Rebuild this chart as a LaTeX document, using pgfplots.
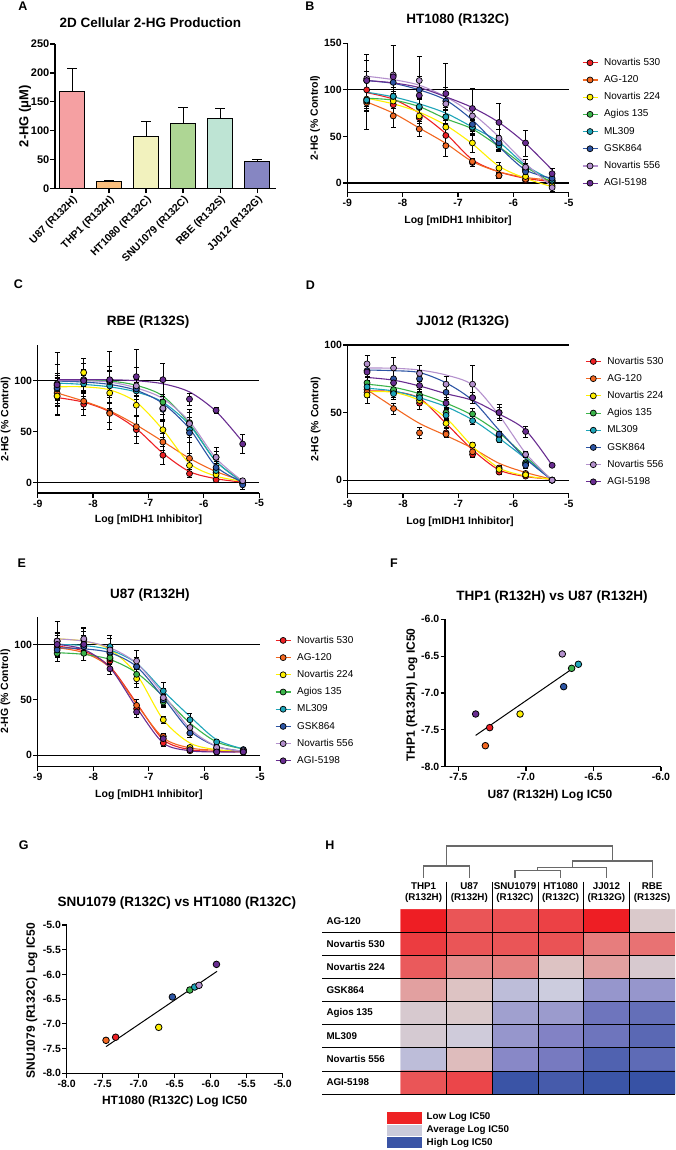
\documentclass[border=0pt]{standalone}
\usepackage{pgfplots}
\pgfplotsset{compat=1.18}
\usepackage{pgfplotstable}
\usepackage{fontspec}
\setmainfont{Liberation Sans}

\definecolor{kR}{RGB}{237,32,36}
\definecolor{kO}{RGB}{243,104,33}
\definecolor{kY}{RGB}{255,240,0}
\definecolor{kG}{RGB}{60,180,75}
\definecolor{kT}{RGB}{30,165,185}
\definecolor{kB}{RGB}{45,85,165}
\definecolor{kL}{RGB}{180,145,205}
\definecolor{kP}{RGB}{105,45,145}
\definecolor{bU}{RGB}{245,160,162}
\definecolor{bT}{RGB}{250,190,125}
\definecolor{bH}{RGB}{242,242,190}
\definecolor{bS}{RGB}{174,214,148}
\definecolor{bR}{RGB}{190,228,212}
\definecolor{bJ}{RGB}{134,134,194}
\definecolor{dg}{RGB}{105,105,105}
\definecolor{hR}{RGB}{238,34,36}
\definecolor{hM}{RGB}{202,202,218}
\definecolor{hB}{RGB}{58,84,165}

\newcommand\fT{\bfseries\fontsize{13.5}{16}\selectfont}
\newcommand\fK{\bfseries\fontsize{10.5}{12.5}\selectfont}
\newcommand\fM{\bfseries\fontsize{12}{14}\selectfont}
\newcommand\fP{\bfseries\fontsize{12.5}{15}\selectfont}
\newcommand\fH{\bfseries\fontsize{9.8}{11}\selectfont}
\newcommand\fG{\fontsize{10}{12}\selectfont}

\pgfplotsset{
  colormap={hm}{rgb255(0cm)=(238,30,36) rgb255(5cm)=(232,118,118) rgb255(8.5cm)=(220,200,200) rgb255(10cm)=(204,204,222) rgb255(15cm)=(128,128,196) rgb255(20cm)=(55,82,165)},
  legend image code/.code={\draw[mark repeat=2,mark phase=2,#1] plot coordinates {(0pt,0pt) (7.5pt,0pt) (15pt,0pt)};},
  gp/.style={scale only axis, clip=false, axis x line*=bottom, axis y line*=left,
    axis line style={-, line width=1.2pt, black},
    tick align=outside, major tick length=4.5pt,
    major tick style={black, line width=1.2pt},
    minor tick num=0,
    every axis title shift=0pt,
    tick label style={font=\fK},
    xticklabel style={inner sep=2pt}, yticklabel style={inner xsep=1pt},
    label style={font=\fK},
    title style={font=\fT}},
  tpos/.style 2 args={title style={at={(axis description cs:#1,#2)}, anchor=center}},
  xlpos/.style 2 args={xlabel style={at={(axis description cs:#1,#2)}, anchor=center}},
  ylpos/.style 2 args={ylabel style={at={(axis description cs:#1,#2)}, anchor=center}},
  dr/.style={gp, xmin=-9, xmax=-5, ymin=-10, xtick={-9,-8,-7,-6,-5}, xticklabels={-9,-8,-7,-6,-5},
    ytick={0,50,100}, yticklabels={0,50,100},
    xlabel={Log [mIDH1 Inhibitor]}, ylabel={2-HG (\% Control)},
    xlpos={0.5}{-0.193}, ylpos={-0.145}{0.5}},
  drleg/.style={legend style={at={(#1)}, anchor=north west, draw=none, fill=none, font=\fG,
    row sep=7.6pt, inner sep=0pt, nodes={inner sep=0pt},
    /tikz/column 2/.style={nodes={text height=7.4pt, text depth=2.2pt}},
    /tikz/every odd column/.append style={column sep=6pt}}, legend cell align=left},
  sc/.style={gp, xlabel style={font=\fM}, ylabel style={font=\fM}},
  ebar/.style={ybar, bar width=24.5pt, bar shift=0pt, draw=black, line width=1pt,
    error bars/.cd, y dir=plus, y explicit, error bar style={line width=1pt, black},
    error mark options={rotate=90, mark size=5pt, line width=1pt, black}},
}

\newcommand\drcv[3]{\addplot[#3, line width=1.1pt, smooth, forget plot] table[x=x, y=c#2] {#1};}
\newcommand\drpt[3]{\addplot[forget plot, only marks, mark=*, mark size=3pt,
  mark options={fill=#3, draw=black, line width=0.7pt, solid},
  error bars/.cd, y dir=both, y explicit, error bar style={black, line width=0.8pt},
  error mark options={black, rotate=90, mark size=2.5pt, line width=0.8pt}]
  table[x=x, y=p#2, y error=e#2] {#1};}
\newcommand\allseries[1]{%
  \drcv{#1}{R}{kR}\drcv{#1}{O}{kO}\drcv{#1}{Y}{kY}\drcv{#1}{G}{kG}%
  \drcv{#1}{T}{kT}\drcv{#1}{B}{kB}\drcv{#1}{L}{kL}\drcv{#1}{P}{kP}%
  \drpt{#1}{R}{kR}\drpt{#1}{O}{kO}\drpt{#1}{Y}{kY}\drpt{#1}{G}{kG}%
  \drpt{#1}{T}{kT}\drpt{#1}{B}{kB}\drpt{#1}{L}{kL}\drpt{#1}{P}{kP}}
\newcommand\lgnd[2]{\addlegendimage{#1, line width=1.1pt, mark=*, mark size=3pt, mark options={fill=#1, draw=black, line width=0.7pt}}\addlegendentry{#2}}
\newcommand\legs{\lgnd{kR}{Novartis 530}\lgnd{kO}{AG-120}\lgnd{kY}{Novartis 224}\lgnd{kG}{Agios 135}%
  \lgnd{kT}{ML309}\lgnd{kB}{GSK864}\lgnd{kL}{Novartis 556}\lgnd{kP}{AGI-5198}}
\newcommand\reflines{\addplot[black, line width=1.1pt, forget plot] coordinates {(-9,0) (-5,0)};
  \addplot[black, line width=1.1pt, forget plot] coordinates {(-9,100) (-5,100)};}

\pgfplotstableread{
x cR cO cY cG cT cB cL cP pR pO pY pG pT pB pL pP eR eO eY eG eT eB eL eP
-8.65 97 87 91 91 97.5 110 114.6 110 100 86 90 88 89 110 112 110 12 28 10 10 12 10 20 28
-8.17 90 75 85 89 92.5 107 111 107.5 84 72 88 93 93 108 116 114 10 12 8 8 10 10 32 34
-7.70 75 59 76 82 85 100 105 102.5 70 58 72 81 82 100 110 94 10 8 8 10 8 8 26 20
-7.22 53 42.5 62 69 75 89 92.5 92.5 51 40 60 71 71 88 85 96 8 11 10 8 10 10 18 32
-6.74 25 23 42 58 60 67.5 74.6 81 22 23 43 59 60 63 72 80 4 3 10 8 8 8 10 22
-6.26 12 12 18 39 44 39 49.6 65 8 8 16 42 40 43 48 65 3 3 6 6 6 8 10 20
-5.78 5 6 5 17.5 19 14 21 42.5 3 4 7 14 15 12 17 43 3 2 4 5 6 6 8 14
-5.30 1.5 3 -4 0.4 3 5 -4 14 2 2 -3 2 3 5 -5 10 2 2 3 3 3 4 4 6
}\tabB
\pgfplotstableread{
x cR cO cY cG cT cB cL cP pR pO pY pG pT pB pL pP eR eO eY eG eT eB eL eP
-8.65 83.5 88 94 100 97.7 99.7 100 101 85 88 85 95 92 93 97 96 18 10 10 12 10 12 31 20
-8.17 79 80 94 100 96.4 98.7 100 101 77 80 108 100 97 101 101 100 11 8 14 10 8 10 16 10
-7.70 69.6 70.5 91 99.7 94 96.4 98.7 101 69 68 88 100 95 99 100 101 10 16 10 10 8 10 14 28
-7.22 53 56.6 79 95.5 89 90.6 93 100 52 55 76 93 90 92 95 104 13 10 10 8 8 10 18 27
-6.74 29 40.5 52 85 79 77.7 82.5 97 27 40 52 79 73 72 73 101 9 8 8 8 6 10 12 16
-6.26 11 24 19 58 56.6 53 60 89 9 24 17 59 52 49 58 82 4 5 6 10 12 20 14 6
-5.78 4 11 6.5 21 21 16 24 70 3 10 8 25 12 15 25 71 3 4 4 6 5 6 10 3
-5.30 0.6 2 1.6 1.6 0.6 0.6 1.6 40 0 0 0 0 0 -2 2 38 2 2 2 2 2 4 2 9
}\tabC
\pgfplotstableread{
x cR cO cY cG cT cB cL cP pR pO pY pG pT pB pL pP eR eO eY eG eT eB eL eP
-8.65 66 67 65.5 71 68 81.5 83 76 67 65 63 72 69 81 86 80 4 4 6 4 4 4 6 6
-8.17 65.5 54 65 68.7 66 81 82.8 74 65 53 66 67 64 75 83 72 4 4 3 4 4 8 8 4
-7.70 60.6 42 59 64 61 79.6 81.5 69.7 57 35 59 63 61 75 79 70 5 4 4 4 4 6 6 4
-7.22 42 33 46 57 54.4 72 77.8 64 35 34 42 50 48 65 71 57 3 2 3 4 4 5 6 4
-6.74 22.4 23.6 25 48 44.6 59 70.4 59 19 21 26 49 44 61 71 61 2 3 2 4 3 4 14 4
-6.26 7.6 12.5 9 35 31 37 48 49 6 9 8 33 30 34 50 50 2 2 2 2 2 2 4 6
-5.78 2.7 5.7 3.2 17.5 16 16 20 37 3 5 4 13 12 11 19 36 1 1 1 2 2 2 2 4
-5.30 0.7 0.7 0.7 0.2 0 0 0 11 0 0 0 0 0 0 0 11 1 1 1 1 1 1 1 1
}\tabD
\pgfplotstableread{
x cR cO cY cG cT cB cL cP pR pO pY pG pT pB pL pP eR eO eY eG eT eB eL eP
-8.65 98.5 97 105 92.5 100 97 105 100 103 97 103 92 100 95 103 100 8 6 8 4 8 6 18 10
-8.17 94 92.5 103 91 99 96 103 95.5 98 100 104 92 100 98 105 100 6 6 8 6 8 6 10 14
-7.70 80 79 95.5 86.4 95 92.5 97 79 85 87 92 88 98 93 95 78 8 8 8 6 10 6 10 5
-7.22 47 46 73 74.4 83 80 83 43 42 45 69 73 80 80 85 39 5 5 8 8 8 6 10 5
-6.74 14 15.7 32 53 58 52 55 11 11 17 32 48 58 50 52 15 3 3 3 5 8 5 8 4
-6.26 5 6.6 11 29 35 22 24 4 4 6 7 20 32 20 25 5 1 1 2 4 6 4 6 2
-5.78 3.6 4.5 5 12 14 8 8 3 3 3 4 7 12 6 7 3 1 1 1 2 2 2 2 1
-5.30 3 3.6 3.6 5.7 5.7 3.6 3.6 3 3 3 3 4 5 5 4 3 1 1 1 1 1 1 1 1
}\tabE
\pgfplotstableread{
x y k
-7.373 -7.285 P
-7.269 -7.470 R
-7.301 -7.715 O
-7.044 -7.285 Y
-6.731 -6.470 L
-6.662 -6.665 G
-6.612 -6.610 T
-6.721 -6.914 B
}\tabF
\pgfplotstableread{
x y k
-7.454 -7.333 O
-7.320 -7.270 R
-6.722 -7.070 Y
-6.532 -6.456 B
-6.290 -6.315 G
-6.222 -6.254 T
-6.162 -6.220 L
-5.920 -5.796 P
}\tabG
\pgfplotstableread{
c r v
0 0 -1.0
1 0 -0.69
2 0 -0.72
3 0 -0.8
4 0 -1.0
5 0 -0.13
0 1 -0.83
1 1 -0.69
2 1 -0.69
3 1 -0.7
4 1 -0.47
5 1 -0.52
0 2 -0.66
1 2 -0.41
2 2 -0.45
3 2 -0.17
4 2 -0.32
5 2 -0.1
0 3 -0.32
1 3 -0.17
2 3 0.1
3 3 0.0
4 3 0.355
5 3 0.355
0 4 -0.1
1 4 -0.13
2 4 0.29
3 4 0.32
4 4 0.62
5 4 0.69
0 5 -0.08
1 5 -0.03
2 5 0.355
3 5 0.49
4 5 0.62
5 5 0.76
0 6 0.1
1 6 -0.2
2 6 0.45
3 6 0.56
4 6 0.83
5 6 0.73
0 7 -0.69
1 7 -0.77
2 7 0.98
3 7 0.9
4 7 0.97
5 7 1.0
}\heat

\begin{document}
\begin{tikzpicture}
\path[use as bounding box] (0,0) rectangle (676pt,-1150pt);

% ---------- A ----------
\begin{axis}[gp, at={(55pt,-188.7pt)}, anchor=south west, width=221pt, height=144.7pt,
  ymin=0, ymax=250, xmin=-0.46, xmax=5.51,
  ytick={0,50,100,150,200,250}, yticklabels={0,50,100,150,200,250},
  yticklabel style={font=\bfseries\fontsize{11}{13}\selectfont},
  xtick={0,1,2,3,4,5},
  xticklabels={U87 (R132H),THP1 (R132H),HT1080 (R132C),SNU1079 (R132C),RBE (R132S),JJ012 (R132G)},
  xticklabel style={rotate=45, anchor=north east, inner sep=1pt, font=\fK},
  ylabel={2-HG (μM)}, ylabel style={font=\bfseries\fontsize{13}{15}\selectfont},
  ylpos={-0.136}{0.502},
  title={2D Cellular 2-HG Production}, tpos={0.432}{1.145}]
\addplot[fill=bU, ebar] coordinates {(0,168) +- (0,40)};
\addplot[fill=bT, ebar] coordinates {(1,13) +- (0,1.5)};
\addplot[fill=bH, ebar] coordinates {(2,90) +- (0,26)};
\addplot[fill=bS, ebar] coordinates {(3,112) +- (0,28)};
\addplot[fill=bR, ebar] coordinates {(4,122) +- (0,17)};
\addplot[fill=bJ, ebar] coordinates {(5,47) +- (0,3)};
\end{axis}

% ---------- B ----------
\begin{axis}[dr, at={(347.3pt,-192.3pt)}, anchor=south west, width=221.4pt, height=149pt,
  ymax=150, ytick={0,50,100,150}, yticklabels={0,50,100,150},
  title={HT1080 (R132C)}, tpos={0.499}{1.156}, drleg={1.059,0.903}]
\reflines
\allseries{\tabB}
\legs
\end{axis}

% ---------- C ----------
\begin{axis}[dr, at={(37.7pt,-493pt)}, anchor=south west, width=221.6pt, height=148pt,
  ymax=135, title={RBE (R132S)}, tpos={0.498}{1.155}, xlpos={0.5}{-0.182}]
\reflines
\allseries{\tabC}
\end{axis}

% ---------- D ----------
\begin{axis}[dr, at={(347.7pt,-493.7pt)}, anchor=south west, width=221pt, height=148.7pt,
  ymax=100, title={JJ012 (R132G)}, tpos={0.52}{1.155}, xlpos={0.508}{-0.192}, drleg={1.074,0.923}]
\reflines
\allseries{\tabD}
\legs
\end{axis}

% ---------- E ----------
\begin{axis}[dr, at={(37.7pt,-766.3pt)}, anchor=south west, width=222.3pt, height=149.6pt,
  ymax=125, title={U87 (R132H)}, tpos={0.505}{1.145}, drleg={1.067,0.875}]
\reflines
\allseries{\tabE}
\legs
\end{axis}

% ---------- F ----------
\begin{axis}[sc, at={(445pt,-766.7pt)}, anchor=south west, width=216pt, height=147.4pt,
  xmin=-7.6, xmax=-6.0, ymin=-8, ymax=-6,
  xtick={-7.5,-7,-6.5,-6}, xticklabels={-7.5,-7.0,-6.5,-6.0},
  ytick={-8,-7.5,-7,-6.5,-6}, yticklabels={-8.0,-7.5,-7.0,-6.5,-6.0},
  xlabel={U87 (R132H) Log IC50}, ylabel={THP1 (R132H) Log IC50},
  xlpos={0.486}{-0.192}, ylpos={-0.154}{0.486},
  title={THP1 (R132H) vs U87 (R132H)}, tpos={0.495}{1.151}]
\addplot[black, line width=1pt] coordinates {(-7.373,-7.575) (-6.642,-6.652)};
\addplot[scatter, only marks, mark=*, mark size=3.3pt, scatter src=explicit symbolic,
  scatter/classes={R={mark=*,fill=kR,draw=black}, O={mark=*,fill=kO,draw=black}, Y={mark=*,fill=kY,draw=black},
  G={mark=*,fill=kG,draw=black}, T={mark=*,fill=kT,draw=black}, B={mark=*,fill=kB,draw=black},
  L={mark=*,fill=kL,draw=black}, P={mark=*,fill=kP,draw=black}},
  mark options={line width=0.8pt}] table[x=x, y=y, meta=k] {\tabF};
\end{axis}

% ---------- G ----------
\begin{axis}[sc, at={(66.7pt,-1073.3pt)}, anchor=south west, width=216pt, height=148.3pt,
  xmin=-8, xmax=-5, ymin=-8, ymax=-5,
  xtick={-8,-7.5,-7,-6.5,-6,-5.5,-5}, xticklabels={-8.0,-7.5,-7.0,-6.5,-6.0,-5.5,-5.0},
  ytick={-8,-7.5,-7,-6.5,-6,-5.5,-5}, yticklabels={-8.0,-7.5,-7.0,-6.5,-6.0,-5.5,-5.0},
  xlabel={HT1080 (R132C) Log IC50}, ylabel={SNU1079 (R132C) Log IC50},
  xlpos={0.50}{-0.192}, ylpos={-0.162}{0.49},
  title={SNU1079 (R132C) vs HT1080 (R132C)}, tpos={0.51}{1.15}]
\addplot[black, line width=1pt] coordinates {(-7.454,-7.46) (-5.912,-5.937)};
\addplot[scatter, only marks, mark=*, mark size=3.3pt, scatter src=explicit symbolic,
  scatter/classes={R={mark=*,fill=kR,draw=black}, O={mark=*,fill=kO,draw=black}, Y={mark=*,fill=kY,draw=black},
  G={mark=*,fill=kG,draw=black}, T={mark=*,fill=kT,draw=black}, B={mark=*,fill=kB,draw=black},
  L={mark=*,fill=kL,draw=black}, P={mark=*,fill=kP,draw=black}},
  mark options={line width=0.8pt}] table[x=x, y=y, meta=k] {\tabG};
\end{axis}

% ---------- H ----------
\begin{axis}[scale only axis, hide axis, clip=false, at={(400.7pt,-1094pt)}, anchor=south west,
  width=274.3pt, height=184.7pt, xmin=-0.5, xmax=5.5, ymin=-0.5, ymax=7.5, y dir=reverse,
  colormap name=hm, point meta min=-1, point meta max=1]
\addplot[matrix plot*, mesh/cols=6, point meta=explicit] table[x=c, y=r, meta=v] {\heat};
\pgfplotsinvokeforeach{0.5,1.5,2.5,3.5,4.5,5.5,6.5,7.5}{
  \addplot[black, line width=0.7pt] coordinates {(-2.215,#1) (5.5,#1)};}
\pgfplotsinvokeforeach{0.5,1.5,2.5,3.5,4.5}{
  \addplot[black, line width=0.7pt] coordinates {(#1,-1.696) (#1,7.5)};}
\addplot[dg, line width=1.1pt] coordinates {(0,-1.869) (0,-2.376) (1,-2.376) (1,-1.869)};
\addplot[dg, line width=1.1pt] coordinates {(0.5,-2.376) (0.5,-3.243) (4.125,-3.243) (4.125,-2.593)};
\addplot[dg, line width=1.1pt] coordinates {(3.25,-2.32) (3.25,-2.593) (5,-2.593) (5,-1.869)};
\addplot[dg, line width=1.1pt] coordinates {(2.5,-2.172) (2.5,-2.32) (4,-2.32) (4,-1.869)};
\addplot[dg, line width=1.1pt] coordinates {(2,-1.869) (2,-2.172) (3,-2.172) (3,-1.869)};
\node[align=center, font=\fH] at (axis cs:0,-1.228) {THP1\\(R132H)};
\node[align=center, font=\fH] at (axis cs:1,-1.228) {U87\\(R132H)};
\node[align=center, font=\fH] at (axis cs:2,-1.228) {SNU1079\\(R132C)};
\node[align=center, font=\fH] at (axis cs:3,-1.228) {HT1080\\(R132C)};
\node[align=center, font=\fH] at (axis cs:4,-1.228) {JJ012\\(R132G)};
\node[align=center, font=\fH] at (axis cs:5,-1.228) {RBE\\(R132S)};
\node[anchor=west, font=\fH] at (axis cs:-2.2,0) {AG-120};
\node[anchor=west, font=\fH] at (axis cs:-2.2,1) {Novartis 530};
\node[anchor=west, font=\fH] at (axis cs:-2.2,2) {Novartis 224};
\node[anchor=west, font=\fH] at (axis cs:-2.2,3) {GSK864};
\node[anchor=west, font=\fH] at (axis cs:-2.2,4) {Agios 135};
\node[anchor=west, font=\fH] at (axis cs:-2.2,5) {ML309};
\node[anchor=west, font=\fH] at (axis cs:-2.2,6) {Novartis 556};
\node[anchor=west, font=\fH] at (axis cs:-2.2,7) {AGI-5198};
\end{axis}

% heatmap colour key
\fill[hR] (386.7pt,-1111.7pt) rectangle (421.7pt,-1123.6pt);
\fill[hM] (386.7pt,-1124.6pt) rectangle (421.7pt,-1135.6pt);
\fill[hB] (386.7pt,-1136.6pt) rectangle (421.7pt,-1148.4pt);
\node[anchor=west, font=\fH, inner sep=0pt] at (426.5pt,-1117.6pt) {Low Log IC50};
\node[anchor=west, font=\fH, inner sep=0pt] at (426.5pt,-1130.1pt) {Average Log IC50};
\node[anchor=west, font=\fH, inner sep=0pt] at (426.5pt,-1142.5pt) {High Log IC50};

% panel letters
\node[font=\fP] at (22.8pt,-5.8pt) {A};
\node[font=\fP] at (310pt,-5.8pt) {B};
\node[font=\fP] at (18.5pt,-284pt) {C};
\node[font=\fP] at (310.5pt,-285pt) {D};
\node[font=\fP] at (21.7pt,-563pt) {E};
\node[font=\fP] at (394pt,-563pt) {F};
\node[font=\fP] at (23.7pt,-845pt) {G};
\node[font=\fP] at (330pt,-845pt) {H};
\end{tikzpicture}
\end{document}
